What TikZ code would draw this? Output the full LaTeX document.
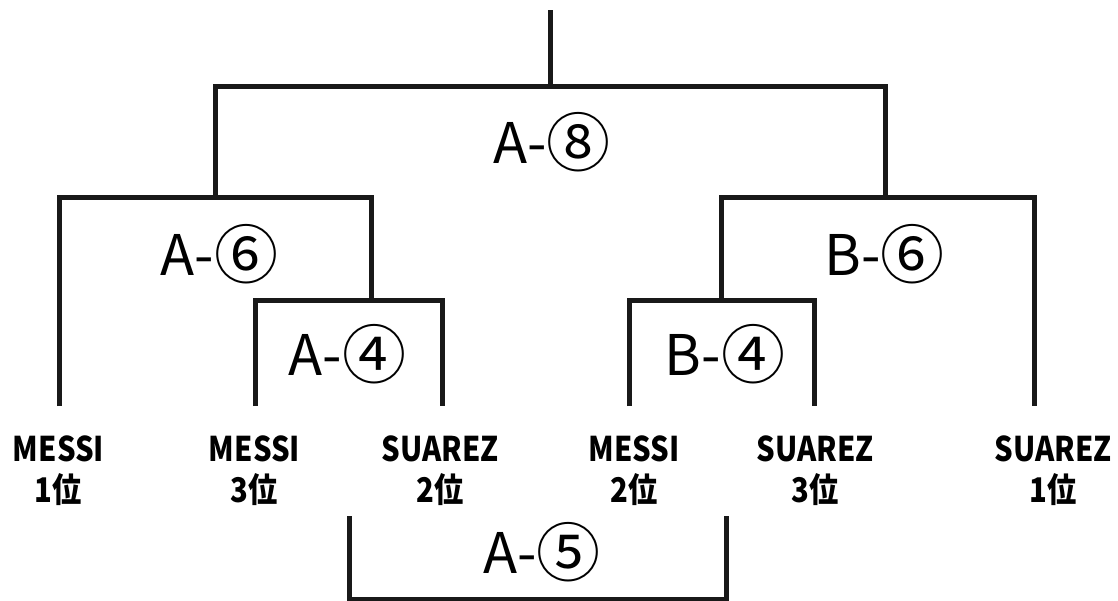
\documentclass[tikz,border=0pt]{standalone}
\usepackage{fontspec}
\setmainfont{Noto Sans CJK JP}
\newfontfamily\namefont[FakeStretch=0.86]{Noto Sans CJK JP}
\usepackage{tikz}
\newcommand\circnum[1]{\raisebox{-3.5pt}{\fontsize{64}{64}\selectfont#1}}
\tikzstyle{bracket}=[line width=5pt,color=black!90]
\tikzstyle{match}=[anchor=base,inner sep=0pt,font=\fontsize{56}{60}\selectfont]
\tikzstyle{player}=[anchor=base,inner sep=0pt,align=center,font=\namefont\fontsize{34}{41}\selectfont\bfseries]

\begin{document}
\begin{tikzpicture}[x=1pt,y=-1pt]
	\useasboundingbox (0,0) rectangle (1118,600);

	\coordinate(top) at (550,10);
	\coordinate(a8) at (550,86.5);
	\coordinate(a6) at (215,197);
	\coordinate(a4) at (371.5,300.5);
	\coordinate(b6) at (885.5,197);
	\coordinate(b4) at (721.5,300.5);
	\coordinate(p1) at (59,406);
	\coordinate(p2) at (255.5,406);
	\coordinate(p3) at (442.5,406);
	\coordinate(p4) at (629.5,406);
	\coordinate(p5) at (814.5,406);
	\coordinate(p6) at (1034.5,406);
	\coordinate(a5l) at (349.5,516);
	\coordinate(a5r) at (726.5,516);
	\coordinate(a5b) at (538,599);

	\draw[bracket] (a8) -- (top);
	\draw[bracket] (a6) |- (a8) -| (b6);
	\draw[bracket] (p1) |- (a6) -| (a4);
	\draw[bracket] (p2) |- (a4) -| (p3);
	\draw[bracket] (b4) |- (b6) -| (p6);
	\draw[bracket] (p4) |- (b4) -| (p5);
	\draw[bracket] (a5l) |- (a5b) -| (a5r);

	\node(m8)[match] at (552,163) {A-\circnum{⑧}};
	\node(m6a)[match] at (219.5,275) {A-\circnum{⑥}};
	\node(m4a)[match] at (347.5,375) {A-\circnum{④}};
	\node(m6b)[match] at (884.5,275) {B-\circnum{⑥}};
	\node(m4b)[match] at (725,375) {B-\circnum{④}};
	\node(m5)[match] at (542,573) {A-\circnum{⑤}};

	\node(n1)[player] at (58.5,502) {MESSI\\1位};
	\node(n2)[player] at (254.5,502) {MESSI\\3位};
	\node(n3)[player] at (440,502) {SUAREZ\\2位};
	\node(n4)[player] at (634,502) {MESSI\\2位};
	\node(n5)[player] at (815,502) {SUAREZ\\3位};
	\node(n6)[player] at (1053,502) {SUAREZ\\1位};
\end{tikzpicture}
\end{document}
